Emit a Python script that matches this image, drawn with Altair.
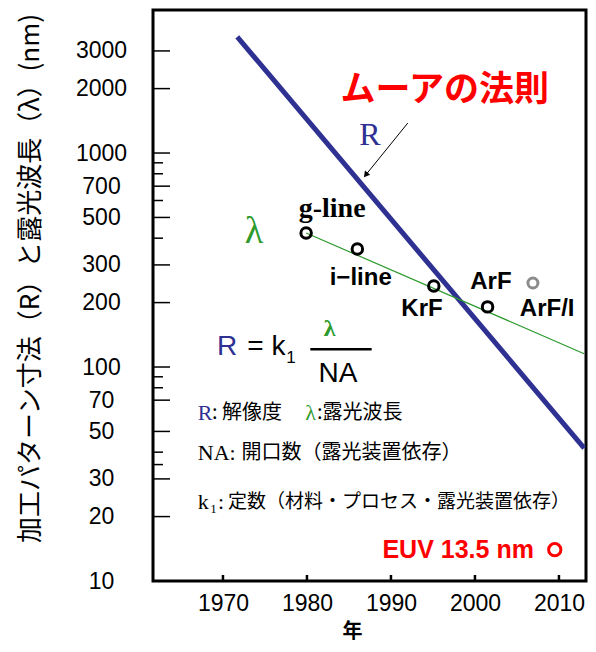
import altair as alt
import pandas as pd

# ---------------- data ----------------
r_years = [1971.7, 2013.0]
r_vals = [3490, 41.8]

lam_years = [1979.9, 2013.0]
lam_vals = [423, 115.4]

src_names = ["g-line", "i-line", "KrF", "ArF/I"]
src_years = [1979.9, 1986.0, 1995.1, 2001.5]
src_vals = [423, 356, 239, 191]

grey_years = [2006.9]
grey_vals = [247]

euv_years = [2009.5]
euv_vals = [14.0]

y_major = [3000, 2000, 1000, 700, 500, 300, 200, 100, 70, 50, 30, 20]
y_minor = [900, 800, 600, 400, 90, 80, 40, 35]
y_labels = y_major + [10]
x_ticks = [1970, 1980, 1990, 2000, 2010]

W, H = 433, 571
NAVY = "#2E3192"
GREEN = "#2E9A2E"
RED = "#FF0000"
JP = "Noto Sans CJK JP"
SANS = "Liberation Sans"
SERIF = "Liberation Serif"

xs = alt.Scale(domain=[1961.67, 2013.22], nice=False, zero=False)
ys = alt.Scale(type="log", domain=[10, 4660], nice=False)

x_axis = alt.Axis(values=x_ticks, format="d", title="年",
                  labelFont=SANS, labelFontSize=23, labelColor="black",
                  labelPadding=11, labelFlush=False, labelOverlap=False,
                  ticks=False, tickSize=0, domain=False, grid=False,
                  titleFont=JP, titleFontSize=20, titleFontWeight="bold",
                  titleColor="black", titleX=199, titleY=50,
                  titleBaseline="middle", titleAlign="center")
y_axis = alt.Axis(values=y_labels, format="d",
                  title="加工パターン寸法（R）と露光波長（λ）(nm)",
                  labelFont=SANS, labelFontSize=23, labelColor="black",
                  labelAlign="center", labelPadding=52, labelFlush=False,
                  labelOverlap=False, ticks=False, tickSize=0,
                  domain=False, grid=False,
                  titleFont=JP, titleFontSize=26, titleFontWeight="normal",
                  titleColor="black", titleX=-123, titleY=268,
                  titleAngle=270, titleAlign="center",
                  titleBaseline="middle")


def X(field="x"):
    return alt.X(f"{field}:Q", scale=xs, axis=x_axis)


def Y(field="y"):
    return alt.Y(f"{field}:Q", scale=ys, axis=y_axis)


# --- Moore line (R) ---
r_df = pd.DataFrame({"x": r_years, "y": r_vals})
r_line = alt.Chart(r_df).mark_line(color=NAVY, strokeWidth=5).encode(
    x=X(), y=Y())

# --- wavelength trend line ---
lam_df = pd.DataFrame({"x": lam_years, "y": lam_vals})
lam_line = alt.Chart(lam_df).mark_line(color=GREEN, strokeWidth=1.2).encode(
    x=X(), y=Y())

# --- points ---
src_df = pd.DataFrame({"name": src_names, "x": src_years, "y": src_vals})
src_pts = alt.Chart(src_df).mark_point(
    shape="circle", size=110, filled=False, color="black", strokeWidth=3,
    opacity=1).encode(x=X(), y=Y())

grey_df = pd.DataFrame({"x": grey_years, "y": grey_vals})
grey_pts = alt.Chart(grey_df).mark_point(
    shape="circle", size=100, filled=False, color="#8C8C8C", strokeWidth=3,
    opacity=1).encode(x=X(), y=Y())

euv_df = pd.DataFrame({"x": euv_years, "y": euv_vals})
euv_pts = alt.Chart(euv_df).mark_point(
    shape="circle", size=150, filled=False, color=RED, strokeWidth=3,
    opacity=1).encode(x=X(), y=Y())

# --- inward tick marks ---
maj_df = pd.DataFrame({"y": y_major})
min_df = pd.DataFrame({"y": y_minor})
maj_ticks = alt.Chart(maj_df).mark_rule(color="black", strokeWidth=1.5).encode(
    y=Y(), x=alt.value(0), x2=alt.value(17))
min_ticks = alt.Chart(min_df).mark_rule(color="black", strokeWidth=1.5).encode(
    y=Y(), x=alt.value(0), x2=alt.value(10))
xt_df = pd.DataFrame({"x": x_ticks})
x_tick_marks = alt.Chart(xt_df).mark_rule(color="black", strokeWidth=2.5).encode(
    x=X(), y=alt.value(H), y2=alt.value(H - 6))

# --- arrow to Moore line ---
arrow_df = pd.DataFrame({"x": [1992.0], "y": [1380], "x2": [1987.0], "y2": [790]})
arrow = alt.Chart(arrow_df).mark_rule(color="black", strokeWidth=1).encode(
    x=X("x"), y=Y("y"), x2="x2:Q", y2="y2:Q")
head_df = pd.DataFrame({"x": [1987.0], "y": [790]})
arrow_head = alt.Chart(head_df).mark_point(
    shape="triangle-up", size=45, filled=True, color="black", angle=219,
    opacity=1).encode(x=X(), y=Y())

# --- fraction bar ---
bar_df = pd.DataFrame({"x": [1980.4], "x2": [1987.7], "y": [121]})
frac_bar = alt.Chart(bar_df).mark_rule(color="black", strokeWidth=2.5).encode(
    x=X("x"), x2="x2:Q", y=Y("y"))


def txt(rows, **kw):
    df = pd.DataFrame(rows, columns=["t", "x", "y"])
    return alt.Chart(df).mark_text(**kw).encode(x=X(), y=Y(), text="t:N")


texts = [
    txt([("ムーアの法則", 1996.4, 1970)], font=JP, fontSize=35, fontWeight="bold",
        color=RED, align="center", baseline="middle"),
    txt([("R", 1987.5, 1214)], font=SERIF, fontSize=32, color=NAVY,
        align="center", baseline="middle"),
    txt([("λ", 1973.7, 428)], font=SERIF, fontSize=38, color=GREEN,
        align="center", baseline="middle"),
    txt([("g-line", 1983.0, 547)], font=SERIF, fontSize=28, fontWeight="bold",
        color="black", align="center", baseline="middle"),
    txt([("i−line", 1986.4, 261), ("KrF", 1993.7, 187), ("ArF", 2001.9, 250),
         ("ArF/I", 2008.6, 187)], font=SANS, fontSize=24, fontWeight="bold",
        color="black", align="center", baseline="middle"),
    # formula
    txt([("R", 1970.5, 124)], font=SANS, fontSize=28, color=NAVY,
        align="center", baseline="middle"),
    txt([("= k", 1972.9, 124)], font=SANS, fontSize=28, color="black",
        align="left", baseline="middle"),
    txt([("1", 1978.1, 110)], font=SANS, fontSize=17, color="black",
        align="center", baseline="middle"),
    txt([("λ", 1982.7, 151)], font=SERIF, fontSize=24, fontWeight="bold",
        color=GREEN, align="center", baseline="middle"),
    txt([("NA", 1983.7, 92.7)], font=SANS, fontSize=28, color="black",
        align="center", baseline="middle"),
    # legend lines
    txt([("R", 1967.0, 61)], font=SERIF, fontSize=22, color=NAVY,
        align="left", baseline="middle"),
    txt([(": 解像度", 1968.7, 61), (":露光波長", 1981.2, 61)], font=JP,
        fontSize=20, color="black", align="left", baseline="middle"),
    txt([("λ", 1979.8, 61)], font=SERIF, fontSize=22, color=GREEN,
        align="left", baseline="middle"),
    txt([("NA:", 1967.0, 39.6)], font=SERIF, fontSize=22, color="black",
        align="left", baseline="middle"),
    txt([("開口数（露光装置依存）", 1972.2, 39.6)], font=JP, fontSize=20,
        color="black", align="left", baseline="middle"),
    txt([("k", 1967.0, 23.4), (":", 1969.4, 23.4)], font=SERIF, fontSize=22,
        color="black", align="left", baseline="middle"),
    txt([("1", 1968.5, 21.7)], font=SERIF, fontSize=13, color="black",
        align="left", baseline="middle"),
    txt([("定数（材料・プロセス・露光装置依存）", 1970.6, 23.4)], font=JP,
        fontSize=19, color="black", align="left", baseline="middle"),
    txt([("EUV 13.5 nm", 1998.0, 14.0)], font=SANS, fontSize=25,
        fontWeight="bold", color=RED, align="center", baseline="middle"),
]

chart = alt.layer(
    r_line, maj_ticks, min_ticks, x_tick_marks, lam_line, src_pts, grey_pts,
    euv_pts, arrow, arrow_head, frac_bar, *texts
).properties(
    width=W, height=H,
    padding={"left": 145, "top": 2, "right": 2, "bottom": 63},
    autosize=alt.AutoSizeParams(type="none"),
    background="white",
).configure_view(stroke="black", strokeWidth=3)

chart.save("out.html", embed_options={"renderer": "svg", "actions": False})
